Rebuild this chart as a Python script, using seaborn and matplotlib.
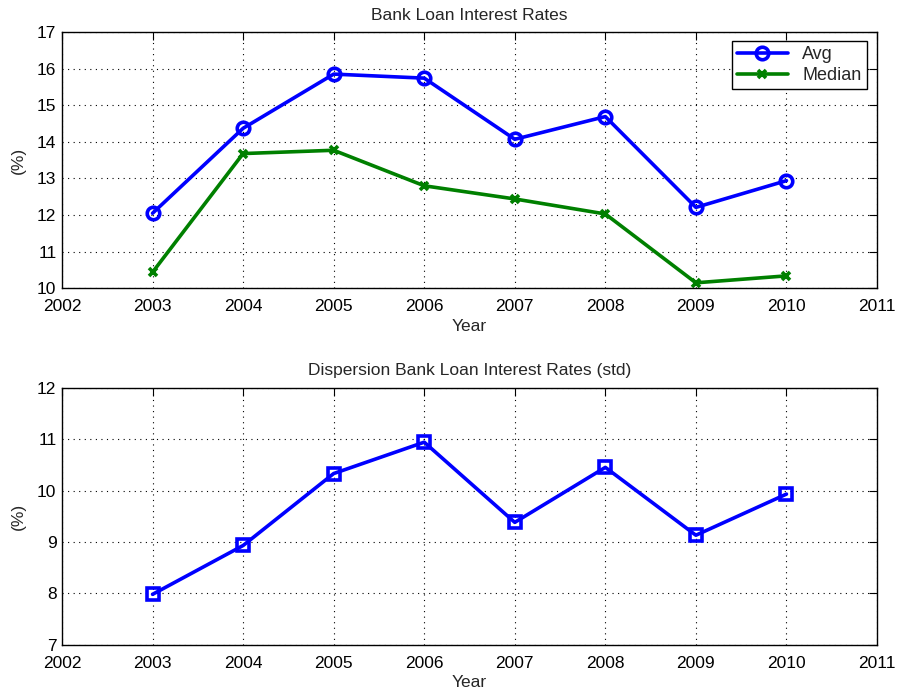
import numpy as np
import pandas as pd
import matplotlib
matplotlib.use("Agg")
import matplotlib.pyplot as plt
import seaborn as sns

years = [2003, 2004, 2005, 2006, 2007, 2008, 2009, 2010]
avg_rate = [12.05, 14.37, 15.85, 15.74, 14.07, 14.69, 12.21, 12.94]
median_rate = [10.44, 13.68, 13.77, 12.80, 12.44, 12.03, 10.15, 10.34]
std_rate = [7.98, 8.93, 10.33, 10.94, 9.38, 10.45, 9.13, 9.93]
year_ticks = list(range(2002, 2012))

sns.set_style("white")
plt.rcParams["font.family"] = ["Liberation Sans", "DejaVu Sans"]
plt.rcParams["xtick.direction"] = "in"
plt.rcParams["ytick.direction"] = "in"

fig = plt.figure(figsize=(8.99, 6.89), dpi=100)
W, H = 899, 689
ax1 = fig.add_axes([62 / W, 1 - 288.3 / H, (877 - 62) / W, (288.3 - 32) / H])
ax2 = fig.add_axes([62 / W, 1 - 644.7 / H, (877 - 62) / W, (644.7 - 387.7) / H])

top = pd.DataFrame({"Year": years, "Avg": avg_rate, "Median": median_rate})
sns.lineplot(data=top, x="Year", y="Avg", ax=ax1, color="#0000ff", lw=2.6,
             marker="o", ms=9, mfc="none", mec="#0000ff", mew=2.6, label="Avg")
sns.lineplot(data=top, x="Year", y="Median", ax=ax1, color="#008000", lw=2.6,
             marker="x", ms=6, mec="#008000", mew=2.6, label="Median")

bottom = pd.DataFrame({"Year": years, "Std": std_rate})
sns.lineplot(data=bottom, x="Year", y="Std", ax=ax2, color="#0000ff", lw=2.6,
             marker="s", ms=8, mfc="none", mec="#0000ff", mew=2.6)

for ax, (lo, hi), title in [(ax1, (10, 17), "Bank Loan Interest Rates"),
                            (ax2, (7, 12), "Dispersion Bank Loan Interest Rates (std)")]:
    ax.set_xlim(2002, 2011)
    ax.set_ylim(lo, hi)
    ax.set_xticks(year_ticks)
    ax.set_yticks(range(lo, hi + 1))
    ax.grid(True, color="black", linestyle=(0, (1, 4)), linewidth=0.8)
    ax.tick_params(axis="both", which="both", direction="in", top=True, right=True,
                   length=6, width=0.8, labelsize=12.5, colors="black")
    ax.tick_params(axis="x", pad=8)
    ax.tick_params(axis="y", pad=4)
    for s in ax.spines.values():
        s.set_visible(True)
        s.set_color("black")
        s.set_linewidth(1.0)
    ax.set_xlabel("Year", fontsize=12.5, labelpad=3)
    ax.set_ylabel("(%)", fontsize=12.5, labelpad=8)
    ax.set_title(title, fontsize=12.5, pad=9)

leg = ax1.legend(loc="upper right", fontsize=13, frameon=True, fancybox=False,
                 edgecolor="black", framealpha=1, borderpad=0.3, handlelength=2.8,
                 labelspacing=0.2, bbox_to_anchor=(0.9985, 1.0))
leg.get_frame().set_linewidth(1.0)

fig.savefig("out.png", dpi=100)
